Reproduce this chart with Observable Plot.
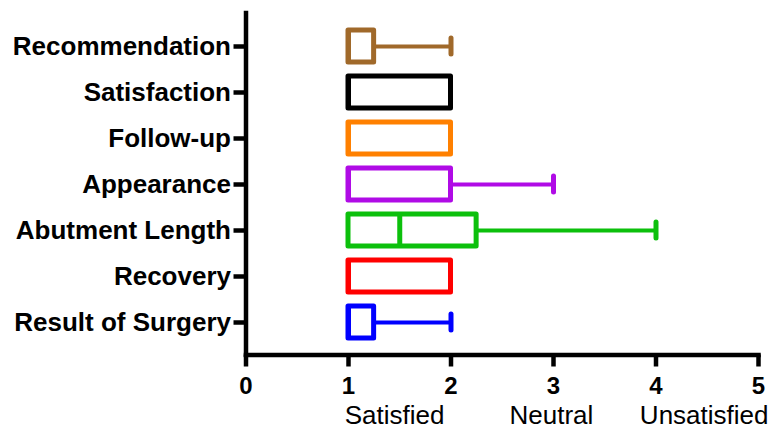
<!DOCTYPE html>
<html>
<head>
<meta charset="utf-8">
<script src="https://cdn.jsdelivr.net/npm/d3@7"></script>
<script src="https://cdn.jsdelivr.net/npm/@observablehq/plot@0.6"></script>
<style>
  html, body { margin: 0; padding: 0; background: white; }
  #chart svg { display: block; }
</style>
</head>
<body>
<div id="chart"></div>
<script>
// Categories (top to bottom)
const categories = ["Recommendation", "Satisfaction", "Follow-up", "Appearance", "Abutment Length", "Recovery", "Result of Surgery"];
// Box-plot summary values
const minimums = [1, 1, 1, 1, 1, 1, 1];
const quartile1 = [1, 1, 1, 1, 1, 1, 1];
const medians = [1, 1, 1, 1, 1.5, 1, 1];
const quartile3 = [1.25, 2, 2, 2, 2.25, 2, 1.25];
const maximums = [2, 2, 2, 3, 4, 2, 2];
const colors = ["#A0692A", "#000000", "#FF8000", "#B00BE6", "#0CC00C", "#FF0000", "#0000FF"];
// Axis ticks and scale annotations
const xTicks = [0, 1, 2, 3, 4, 5];
const scaleLabels = ["Satisfied", "Neutral", "Unsatisfied"];
const scaleLabelPositions = [1.45, 2.98, 4.47];

const rows = categories.map((c, i) => ({
  cat: c, min: minimums[i], q1: quartile1[i], med: medians[i],
  q3: quartile3[i], max: maximums[i], color: colors[i]
}));
const labelRows = scaleLabels.map((t, i) => ({text: t, x: scaleLabelPositions[i]}));

const font = "'Liberation Sans', Arial, Helvetica, sans-serif";

const chart = Plot.plot({
  width: 772,
  height: 433,
  marginLeft: 245.5,
  marginRight: 14,
  marginTop: 13,
  marginBottom: 78.5,
  style: {fontFamily: font, background: "white", color: "black", overflow: "visible"},
  x: {domain: [0, 5]},
  y: {type: "band", domain: categories, range: [20.75, 346.25], paddingInner: 0.31, paddingOuter: 0.155},
  color: {type: "identity"},
  marks: [
    // whiskers
    Plot.ruleY(rows.filter(d => d.max > d.q3), {y: "cat", x1: "q3", x2: "max", stroke: "color", strokeWidth: 4}),
    Plot.ruleY(rows.filter(d => d.min < d.q1), {y: "cat", x1: "min", x2: "q1", stroke: "color", strokeWidth: 4}),
    Plot.tickX(rows.filter(d => d.max > d.q3), {x: "max", y: "cat", stroke: "color", strokeWidth: 5, strokeLinecap: "round", insetTop: 8, insetBottom: 8}),
    Plot.tickX(rows.filter(d => d.min < d.q1), {x: "min", y: "cat", stroke: "color", strokeWidth: 5, strokeLinecap: "round", insetTop: 8, insetBottom: 8}),
    // boxes
    Plot.barX(rows, {x1: "q1", x2: "q3", y: "cat", fill: "white", stroke: "color", strokeWidth: 5, strokeLinejoin: "round"}),
    // medians
    Plot.tickX(rows, {x: "med", y: "cat", stroke: "color", strokeWidth: 5}),
    // axis lines
    Plot.ruleX([0], {stroke: "black", strokeWidth: 4.5, strokeLinecap: "square"}),
    Plot.frame({anchor: "bottom", stroke: "black", strokeWidth: 4.5, strokeLinecap: "square"}),
    // axes
    Plot.axisY({tickSize: 12, tickPadding: 3, fontSize: 26, fontWeight: "bold", strokeWidth: 4.5, label: null}),
    Plot.axisX({ticks: xTicks, tickFormat: d => String(d), tickSize: 12, tickPadding: 10, fontSize: 24, fontWeight: "bold", strokeWidth: 4.5, label: null}),
    // scale annotations
    Plot.text(labelRows, {x: "x", text: "text", frameAnchor: "bottom", dy: 69, fontSize: 26, fontWeight: "normal", fill: "black"})
  ]
});
document.getElementById("chart").appendChild(chart);
</script>
</body>
</html>
